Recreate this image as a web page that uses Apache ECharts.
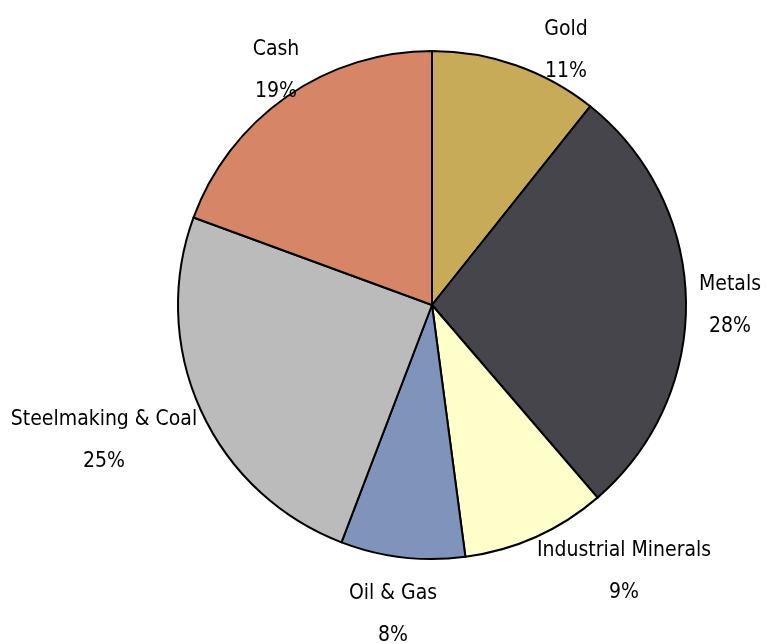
<!DOCTYPE html>
<html>
<head>
<meta charset="utf-8">
<script src="https://cdn.jsdelivr.net/npm/echarts@6/dist/echarts.min.js"></script>
<style>
html,body{margin:0;padding:0;background:#fff;}
#chart{width:766px;height:644px;}
</style>
</head>
<body>
<div id="chart"></div>
<script>
const categories = ['Gold', 'Metals', 'Industrial Minerals', 'Oil & Gas', 'Steelmaking & Coal', 'Cash'];
const values = [10.7, 28.0, 9.2, 7.9, 24.8, 19.4];
const colors = ['#C8AB58', '#46454B', '#FFFFCC', '#8093BA', '#BBBBBB', '#D68566'];

// label anchor offsets from the pie center (px), layout only
const labelOffsets = [[134, -254], [298, 1], [192, 267], [-39, 310], [-328, 136], [-156, -234]];
const CX = 432, CY = 305, R = 254;

const chart = echarts.init(document.getElementById('chart'));
chart.setOption({
  backgroundColor: '#fff',
  animation: false,
  series: [{
    type: 'pie',
    center: [CX, CY],
    radius: R,
    startAngle: 90,
    clockwise: true,
    silent: true,
    data: categories.map((c, i) => ({ name: c, value: values[i], itemStyle: { color: colors[i] } })),
    itemStyle: { borderColor: '#000', borderWidth: 2 },
    label: {
      show: true,
      position: 'outside',
      formatter: p => p.name + '\n' + Math.round(p.value) + '%',
      fontFamily: '"DejaVu Sans Condensed", "Liberation Sans Narrow", sans-serif',
      fontSize: 21,
      lineHeight: 42,
      color: '#000',
      align: 'center',
      overflow: 'none',
      width: 400
    },
    labelLine: { show: false },
    labelLayout: function (p) {
      const o = labelOffsets[p.dataIndex];
      return { x: CX + o[0], y: CY + o[1], align: 'center', verticalAlign: 'middle', hideOverlap: false, moveOverlap: false };
    }
  }]
});
</script>
</body>
</html>
